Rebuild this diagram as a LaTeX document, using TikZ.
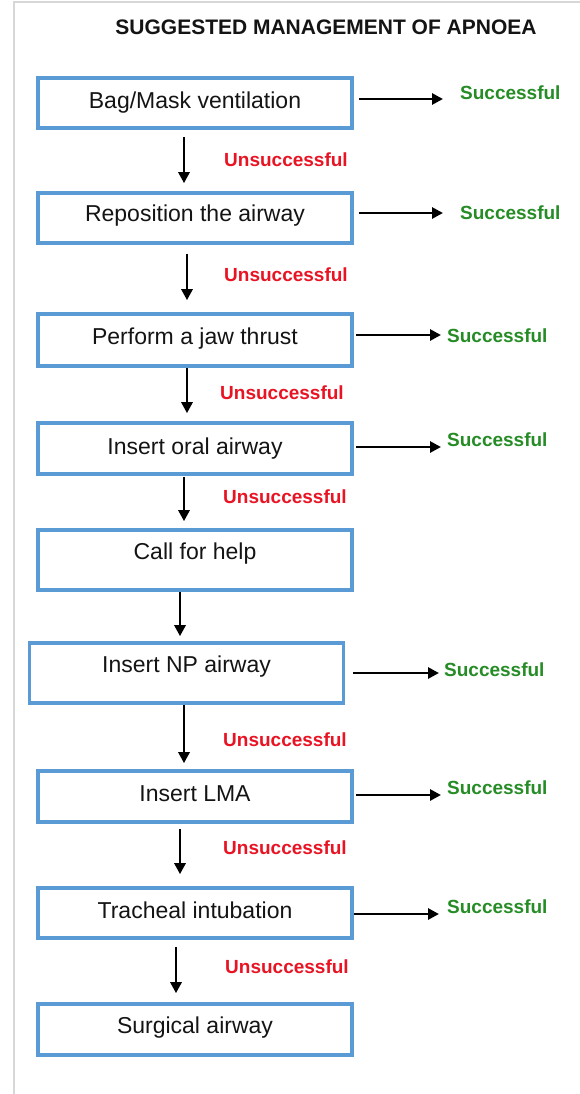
\documentclass[tikz,border=0pt]{standalone}
\usepackage{fontspec}
\setmainfont{Liberation Sans}
\usetikzlibrary{arrows.meta}
\definecolor{boxblue}{RGB}{91,155,213}
\definecolor{okgreen}{RGB}{38,140,38}
\definecolor{failred}{RGB}{232,20,35}
\definecolor{framegray}{RGB}{215,215,215}
\definecolor{ink}{RGB}{20,20,20}
\begin{document}
\begin{tikzpicture}[x=1pt,y=-1pt,
  stepbox/.style={draw=boxblue, line width=3.6pt, fill=white, inner sep=0pt,
    text=ink, text height=16.5pt, minimum width=314pt,
    font=\fontsize{23}{27}\selectfont},
  flow/.style={line width=2.8pt, -{Triangle[length=11pt,width=11pt]}},
  ok/.style={anchor=west, inner sep=0pt, text height=13.5pt, text depth=0pt,
    text=okgreen, font=\fontsize{19}{22}\selectfont\bfseries},
  fail/.style={anchor=west, inner sep=0pt, text height=13.5pt, text depth=0pt,
    text=failred, font=\fontsize{19}{22}\selectfont\bfseries}
]
\useasboundingbox (0,0) rectangle (580,1094);
\fill[white] (0,0) rectangle (580,1094);
% page frame
\draw[framegray, line width=1.5pt] (14,1094) -- (14,2) -- (580,2);

% heading
\node[font=\fontsize{21}{24}\selectfont\bfseries, text=ink, text height=15pt,
  text depth=0pt, inner sep=0pt] (title) at (326,27) {SUGGESTED MANAGEMENT OF APNOEA};

% steps
\node[stepbox, minimum height=50pt, text depth=6pt]  (b1) at (195,103)   {Bag/Mask ventilation};
\node[stepbox, minimum height=50pt, text depth=10pt] (b2) at (195,218)   {Reposition the airway};
\node[stepbox, minimum height=52pt, text depth=8pt]  (b3) at (195,340)   {Perform a jaw thrust};
\node[stepbox, minimum height=51pt, text depth=5pt]  (b4) at (195,448.5) {Insert oral airway};
\node[stepbox, minimum height=60pt, text depth=18pt] (b5) at (195,560)   {Call for help};
\node[stepbox, minimum height=60pt, text depth=18pt] (b6) at (186.5,673) {Insert NP airway};
\node[stepbox, minimum height=51pt, text depth=7pt]  (b7) at (195,796.5) {Insert LMA};
\node[stepbox, minimum height=50pt, text depth=6pt]  (b8) at (195,913)   {Tracheal intubation};
\node[stepbox, minimum height=51pt, text depth=9pt]  (b9) at (195,1029.5) {Surgical airway};

% outcome labels
\node[ok] (s1) at (460,93)  {Successful};
\node[ok] (s2) at (460,213) {Successful};
\node[ok] (s3) at (447,336) {Successful};
\node[ok] (s4) at (447,440) {Successful};
\node[ok] (s6) at (444,670) {Successful};
\node[ok] (s7) at (447,788) {Successful};
\node[ok] (s8) at (447,907) {Successful};

\node[fail] (u1) at (224,160) {Unsuccessful};
\node[fail] (u2) at (224,275) {Unsuccessful};
\node[fail] (u3) at (220,393) {Unsuccessful};
\node[fail] (u4) at (223,497) {Unsuccessful};
\node[fail] (u6) at (223,740) {Unsuccessful};
\node[fail] (u7) at (223,848) {Unsuccessful};
\node[fail] (u8) at (225,967) {Unsuccessful};

% tips of the "successful" arrows
\coordinate (t1) at (443,99);
\coordinate (t2) at (443,213);
\coordinate (t3) at (441,335);
\coordinate (t4) at (441,447);
\coordinate (t6) at (439,673);
\coordinate (t7) at (441,795);
\coordinate (t8) at (439,914);

\draw[flow] ([xshift=5pt]b1.east |- t1) -- (t1);
\draw[flow] ([xshift=5pt]b2.east |- t2) -- (t2);
\draw[flow] ([xshift=2pt]b3.east |- t3) -- (t3);
\draw[flow] ([xshift=2pt]b4.east |- t4) -- (t4);
\draw[flow] ([xshift=8pt]b6.east |- t6) -- (t6);
\draw[flow] ([xshift=2pt]b7.east |- t7) -- (t7);
\draw[flow] ([xshift=0pt]b8.east |- t8) -- (t8);

% downward flow
\draw[flow] ([xshift=-11pt,yshift=-7pt]b1.south) -- ([xshift=-11pt,yshift=8pt]b2.north);
\draw[flow] ([xshift=-8pt,yshift=-9pt]b2.south)  -- ([xshift=-8pt,yshift=12pt]b3.north);
\draw[flow] ([xshift=-8pt,yshift=0pt]b3.south)   -- ([xshift=-8pt,yshift=8pt]b4.north);
\draw[flow] ([xshift=-11pt,yshift=-1pt]b4.south) -- ([xshift=-11pt,yshift=7pt]b5.north);
\draw[flow] ([xshift=-15pt,yshift=0pt]b5.south)  -- ([xshift=-6.5pt,yshift=5pt]b6.north);
\draw[flow] ([xshift=-2.5pt,yshift=0pt]b6.south) -- ([xshift=-11pt,yshift=6pt]b7.north);
\draw[flow] ([xshift=-15pt,yshift=-5pt]b7.south) -- ([xshift=-15pt,yshift=12pt]b8.north);
\draw[flow] ([xshift=-19pt,yshift=-7pt]b8.south) -- ([xshift=-19pt,yshift=9pt]b9.north);
\end{tikzpicture}
\end{document}
